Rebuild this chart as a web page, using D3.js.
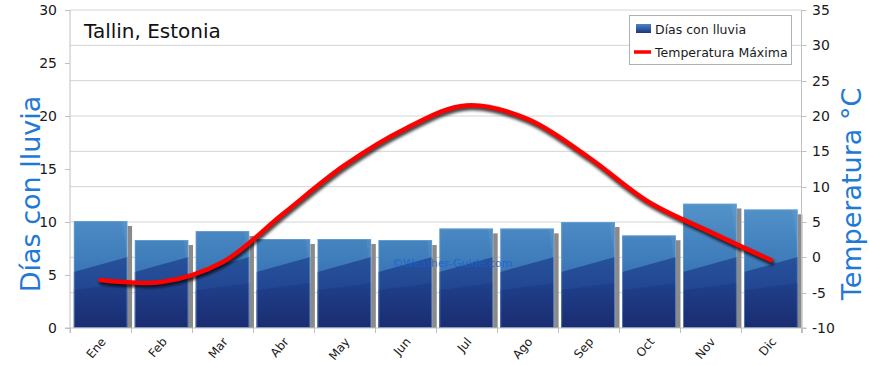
<!DOCTYPE html>
<html><head><meta charset="utf-8">
<script src="https://cdn.jsdelivr.net/npm/d3@7"></script>
<style>body{margin:0;background:#fff}svg{display:block}</style>
</head><body><svg id="c" width="870" height="365"></svg>
<script>
const months = ["Ene","Feb","Mar","Abr","May","Jun","Jul","Ago","Sep","Oct","Nov","Dic"];
const rainDays = [10.1,8.3,9.15,8.4,8.4,8.3,9.4,9.4,10.0,8.75,11.75,11.2];
const tempMax = [-3.2,-3.5,-0.7,6.2,13.0,18.2,21.5,19.6,14.2,7.8,3.6,-0.4];
const leftTicks = [0,5,10,15,20,25,30];
const rightTicks = [-10,-5,0,5,10,15,20,25,30,35];
const title = "Tallin, Estonia";
const leftTitle = "Días con lluvia";
const rightTitle = "Temperatura °C";
const legendLabels = ["Días con lluvia","Temperatura Máxima"];
const watermark = "©Weather-Guide.com";

const svg = d3.select("#c");
const L = 70, R = 801.5, T = 10, B = 328;
const font = "'DejaVu Sans', sans-serif";
const x = d3.scaleBand().domain(months).range([L, R]).paddingInner(0.115).paddingOuter(0.06);
const yL = d3.scaleLinear().domain([0,30]).range([B,T]);
const yR = d3.scaleLinear().domain([-10,35]).range([B,T]);

const defs = svg.append("defs");
const g1 = defs.append("linearGradient").attr("id","barg").attr("gradientUnits","userSpaceOnUse")
  .attr("x1",0).attr("y1",200).attr("x2",0).attr("y2",B);
g1.append("stop").attr("offset",0).attr("stop-color","#5594c9");
g1.append("stop").attr("offset",0.45).attr("stop-color","#3f7dbb");
g1.append("stop").attr("offset",1).attr("stop-color","#2a5aa3");
const g2 = defs.append("linearGradient").attr("id","darkg").attr("gradientUnits","userSpaceOnUse")
  .attr("x1",0).attr("y1",255).attr("x2",0).attr("y2",B);
g2.append("stop").attr("offset",0).attr("stop-color","#27529c");
g2.append("stop").attr("offset",1).attr("stop-color","#1d3a86");
const g3 = defs.append("linearGradient").attr("id","darkerg").attr("gradientUnits","userSpaceOnUse")
  .attr("x1",0).attr("y1",285).attr("x2",0).attr("y2",B);
g3.append("stop").attr("offset",0).attr("stop-color","#1f3f8a");
g3.append("stop").attr("offset",1).attr("stop-color","#1a2c70");
const lgG = defs.append("linearGradient").attr("id","legg").attr("x1",0).attr("y1",0).attr("x2",0).attr("y2",1);
lgG.append("stop").attr("offset",0).attr("stop-color","#4a86c2");
lgG.append("stop").attr("offset",1).attr("stop-color","#1d3580");
const sf = defs.append("filter").attr("id","blur").attr("x","-20%").attr("y","-20%").attr("width","140%").attr("height","140%");
sf.append("feGaussianBlur").attr("stdDeviation",1.6);

// gridlines (right axis ticks)
svg.append("g").selectAll("line").data(rightTicks.filter(d=>d>-10)).join("line")
  .attr("x1",L).attr("x2",R).attr("y1",d=>yR(d)).attr("y2",d=>yR(d))
  .attr("stroke","#d4d4d4").attr("stroke-width",1);

// bars
const bars = svg.append("g");
months.forEach((m,i)=>{
  const x0 = x(m), w = x.bandwidth(), y0 = yL(rainDays[i]);
  defs.append("clipPath").attr("id","cb"+i).append("rect").attr("x",x0).attr("y",y0).attr("width",w).attr("height",B-y0);
  bars.append("rect").attr("x",x0+w).attr("y",y0+5).attr("width",4.5).attr("height",B-y0-5).attr("fill","#8a8a8a");
  const gg = bars.append("g").attr("clip-path","url(#cb"+i+")");
  gg.append("rect").attr("x",x0).attr("y",y0).attr("width",w).attr("height",B-y0).attr("fill","url(#barg)");
  gg.append("path").attr("d",`M${x0+w*0.35},${T} L${x0+w},${T} L${x0+w},${y0+40} Z`).attr("fill","rgba(255,255,255,0.06)");
  gg.append("path").attr("d",`M${x0},272 L${x0+w},257 L${x0+w},${B} L${x0},${B} Z`).attr("fill","url(#darkg)");
  gg.append("path").attr("d",`M${x0},290 L${x0+w},283 L${x0+w},${B} L${x0},${B} Z`).attr("fill","url(#darkerg)");
  gg.append("rect").attr("x",x0+0.5).attr("y",y0+0.5).attr("width",w-1).attr("height",B-y0-1).attr("fill","none").attr("stroke","rgba(120,170,220,0.6)").attr("stroke-width",1);
});

// axes lines
svg.append("line").attr("x1",L).attr("x2",L).attr("y1",T).attr("y2",B+5).attr("stroke","#c0c0c0");
svg.append("line").attr("x1",R).attr("x2",R).attr("y1",T).attr("y2",B+5).attr("stroke","#c0c0c0");
svg.append("line").attr("x1",L-5).attr("x2",R+5).attr("y1",B).attr("y2",B).attr("stroke","#c0c0c0");

// left ticks
svg.append("g").selectAll("line").data(leftTicks).join("line")
  .attr("x1",L-5).attr("x2",L).attr("y1",d=>Math.round(yL(d))+0.5).attr("y2",d=>Math.round(yL(d))+0.5).attr("stroke","#c0c0c0");
svg.append("g").selectAll("text").data(leftTicks).join("text")
  .attr("x",57).attr("y",d=>yL(d)+5).attr("text-anchor","end")
  .attr("font-family",font).attr("font-size",14).attr("fill","#1a1a1a").text(d=>d);
// right ticks
svg.append("g").selectAll("line").data(rightTicks).join("line")
  .attr("x1",R).attr("x2",R+5).attr("y1",d=>Math.round(yR(d))+0.5).attr("y2",d=>Math.round(yR(d))+0.5).attr("stroke","#c0c0c0");
svg.append("g").selectAll("text").data(rightTicks).join("text")
  .attr("x",812).attr("y",d=>yR(d)+5).attr("text-anchor","start")
  .attr("font-family",font).attr("font-size",14).attr("fill","#1a1a1a").text(d=>d);

// x ticks at band boundaries
const bounds = d3.range(13).map(i=>L + i*(R-L)/12);
svg.append("g").selectAll("line").data(bounds).join("line")
  .attr("x1",d=>Math.round(d)+0.5).attr("x2",d=>Math.round(d)+0.5).attr("y1",B).attr("y2",B+5).attr("stroke","#c0c0c0");
svg.append("g").selectAll("text").data(months).join("text")
  .attr("transform",d=>`translate(${x(d)+x.bandwidth()/2+6},${B+14}) rotate(-50)`)
  .attr("text-anchor","end").attr("font-family",font).attr("font-size",12).attr("fill","#1a1a1a").text(d=>d);

// line
const line = d3.line().x((d,i)=>x(months[i])+x.bandwidth()/2).y(d=>yR(d)).curve(d3.curveCatmullRom.alpha(0.5));
svg.append("path").datum(tempMax).attr("d",line).attr("fill","none").attr("stroke","#000")
  .attr("stroke-opacity",0.75).attr("stroke-width",5).attr("transform","translate(1,2.5)").attr("filter","url(#blur)").attr("stroke-linecap","round");
svg.append("path").datum(tempMax).attr("d",line).attr("fill","none").attr("stroke","#ff0000")
  .attr("stroke-width",4.5).attr("stroke-linecap","round");

// watermark
svg.append("text").attr("x",392).attr("y",267).attr("font-family",font).attr("font-size",11)
  .attr("fill","#1a5fd0").attr("fill-opacity",0.8).text(watermark);

// title
svg.append("text").attr("x",84).attr("y",38).attr("font-family",font).attr("font-size",20).attr("fill","#111").text(title);

// axis titles
svg.append("text").attr("transform","translate(40,194) rotate(-90)").attr("text-anchor","middle")
  .attr("font-family",font).attr("font-size",27).attr("fill","#1f7ad6").text(leftTitle);
svg.append("text").attr("transform","translate(861,194) rotate(-90)").attr("text-anchor","middle")
  .attr("font-family",font).attr("font-size",27).attr("fill","#1f7ad6").text(rightTitle);

// legend
const lg = svg.append("g");
lg.append("rect").attr("x",629.5).attr("y",15.5).attr("width",162).attr("height",49).attr("fill","#fff").attr("stroke","#b0b0b0");
lg.append("rect").attr("x",636).attr("y",24).attr("width",15).attr("height",9).attr("fill","url(#legg)");
lg.append("line").attr("x1",634).attr("x2",651).attr("y1",52).attr("y2",52).attr("stroke","#ff0000").attr("stroke-width",3.5);
lg.selectAll("text.lt").data(legendLabels).join("text").attr("class","lt")
  .attr("x",655).attr("y",(d,i)=>34+i*23).attr("font-family",font).attr("font-size",12.5).attr("fill","#1a1a1a").text(d=>d);
</script></body></html>
